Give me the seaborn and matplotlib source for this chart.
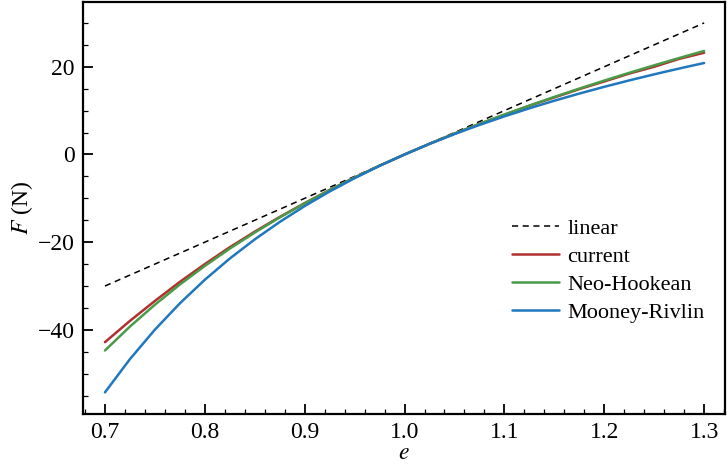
import numpy as np
import pandas as pd
import seaborn as sns
import matplotlib.pyplot as plt
from matplotlib.ticker import MultipleLocator

## Data
e_values = [0.700, 0.725, 0.750, 0.775, 0.800, 0.825, 0.850, 0.875, 0.900, 0.925, 0.950, 0.975,
            1.000, 1.025, 1.050, 1.075, 1.100, 1.125, 1.150, 1.175, 1.200, 1.225, 1.250, 1.275, 1.300]
current = [-42.8, -37.95, -33.4, -29.05, -25.0, -21.15, -17.6, -14.25, -11.1, -8.1, -5.25, -2.56,
           0.0, 2.44, 4.75, 6.97, 9.05, 11.1, 13.0, 14.9, 16.65, 18.45, 20.0, 21.8, 23.2]
neo_hookean = [-44.7, -39.25, -34.26, -29.66, -25.42, -21.47, -17.8, -14.37, -11.15, -8.12, -5.27, -2.56,
               0.0, 2.44, 4.77, 6.99, 9.12, 11.16, 13.13, 15.02, 16.85, 18.62, 20.33, 22.0, 23.61]
mooney_rivlin = [-54.25, -46.67, -39.95, -33.95, -28.57, -23.73, -19.36, -15.39, -11.76, -8.44, -5.4, -2.59,
                 0.0, 2.41, 4.65, 6.74, 8.69, 10.53, 12.26, 13.89, 15.43, 16.89, 18.28, 19.6, 20.86]
linear_e = [0.7, 1.3]
linear_F = [-30.0, 30.0]

curves = pd.DataFrame({"e": e_values, "current": current,
                       "Neo-Hookean": neo_hookean, "Mooney-Rivlin": mooney_rivlin})
lin = pd.DataFrame({"e": linear_e, "F": linear_F})

sns.set_style("ticks", {"axes.edgecolor": "black", "text.color": "black",
                        "xtick.color": "black", "ytick.color": "black", "axes.labelcolor": "black"})
plt.rcParams['font.family'] = ['Liberation Serif', 'DejaVu Serif']
plt.rcParams['mathtext.fontset'] = 'stix'

fig = plt.figure(figsize=(7.28, 4.70), dpi=100)
ax = fig.add_axes([0.114, 0.119, 0.882, 0.877])

sns.lineplot(x="e", y="F", data=lin, ax=ax, color="black", linestyle=(0, (4, 3)), linewidth=1.1, label="linear")
sns.lineplot(x="e", y="current", data=curves, ax=ax, color="#b0302f", linewidth=1.8, label="current")
sns.lineplot(x="e", y="Neo-Hookean", data=curves, ax=ax, color="#4b9a48", linewidth=1.8, label="Neo-Hookean")
sns.lineplot(x="e", y="Mooney-Rivlin", data=curves, ax=ax, color="#1f78bf", linewidth=1.8, label="Mooney-Rivlin")

ax.set_xlim(0.678, 1.321)
ax.set_ylim(-59.2, 34.8)
ax.xaxis.set_major_locator(MultipleLocator(0.1))
ax.xaxis.set_minor_locator(MultipleLocator(0.02))
ax.yaxis.set_major_locator(MultipleLocator(20))
ax.yaxis.set_minor_locator(MultipleLocator(5))
ax.xaxis.set_major_formatter(plt.FuncFormatter(lambda v, p: "%.1f" % v))
ax.tick_params(which="major", direction="in", length=7, width=1.3, labelsize=17, pad=6, colors="black")
ax.tick_params(which="minor", direction="in", length=3.5, width=0.9, colors="black")
for sp in ax.spines.values():
    sp.set_linewidth(1.6)
    sp.set_color("black")

ax.set_xlabel(r"$e$", fontsize=17, labelpad=0, color="black")
ax.set_ylabel(r"$F$ (N)", fontsize=17, labelpad=2, color="black")

leg = ax.legend(loc="upper left", bbox_to_anchor=(0.668, 0.475), frameon=False, fontsize=16,
                handlelength=2.1, handletextpad=0.4, labelspacing=0.33, borderpad=0, borderaxespad=0)
for t in leg.get_texts():
    t.set_color("black")

plt.savefig("out.png", dpi=100)
plt.close()
